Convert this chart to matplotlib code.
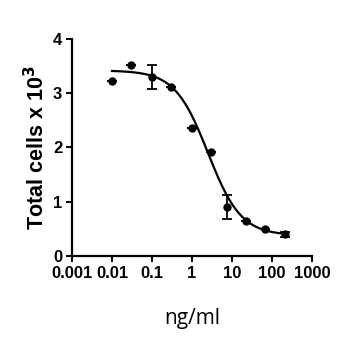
import numpy as np
import matplotlib
matplotlib.use("Agg")
import matplotlib.pyplot as plt
from matplotlib import rcParams

rcParams["font.family"] = ["Liberation Sans", "DejaVu Sans"]

# ---------------------------------------------------------------------------
# Data
# ---------------------------------------------------------------------------
conc = [0.01, 0.03, 0.1, 0.3, 1, 3, 7.5, 22, 67, 210]          # ng/ml
cells = [3.23, 3.52, 3.30, 3.11, 2.36, 1.92, 0.90, 0.645, 0.50, 0.40]  # x 10^3
err = [0, 0, 0.23, 0, 0, 0, 0.22, 0, 0, 0.05]

# 4PL fit parameters (estimated from the drawn curve)
FIT_TOP = 3.42
FIT_BOTTOM = 0.38
FIT_IC50 = 2.5
FIT_HILL = 1.05
FIT_RANGE = (0.01, 210)

xticks = [0.001, 0.01, 0.1, 1, 10, 100, 1000]
xticklabels = ["0.001", "0.01", "0.1", "1", "10", "100", "1000"]
yticks = [0, 1, 2, 3, 4]

TICK_FONT = ["Liberation Sans Narrow", "Liberation Sans", "DejaVu Sans"]

# ---------------------------------------------------------------------------
fig = plt.figure(figsize=(3.58, 3.58), dpi=100)
ax = fig.add_axes([0.201, 0.285, 0.671, 0.606])

xf = np.logspace(np.log10(FIT_RANGE[0]), np.log10(FIT_RANGE[1]), 200)
yf = FIT_BOTTOM + (FIT_TOP - FIT_BOTTOM) / (1 + (xf / FIT_IC50) ** FIT_HILL)
ax.plot(xf, yf, color="black", lw=1.6, zorder=2)

ax.errorbar(conc, cells, yerr=err, fmt="o", color="black", ms=5,
            elinewidth=1.3, capsize=3.5, capthick=1.3, zorder=3)

ax.set_xscale("log")
ax.set_xlim(0.001, 1000)
ax.set_ylim(0, 4)
ax.set_xticks(xticks)
ax.set_xticklabels(xticklabels)
ax.minorticks_off()
ax.set_yticks(yticks)
for lab in ax.get_xticklabels() + ax.get_yticklabels():
    lab.set_family(TICK_FONT)
    lab.set_fontweight("bold")
    lab.set_fontsize(12)

for s in ["top", "right"]:
    ax.spines[s].set_visible(False)
for s in ["left", "bottom"]:
    ax.spines[s].set_linewidth(1.6)
ax.tick_params(width=1.4, length=4, pad=3)

ax.set_ylabel("Total cells x 10$^{\\mathbf{3}}$", fontsize=15.5,
              fontweight="bold", labelpad=3)
ax.set_xlabel("ng/ml", fontsize=15, family=["Open Sans", "DejaVu Sans"],
              labelpad=20)

fig.savefig("out.png", dpi=100)
